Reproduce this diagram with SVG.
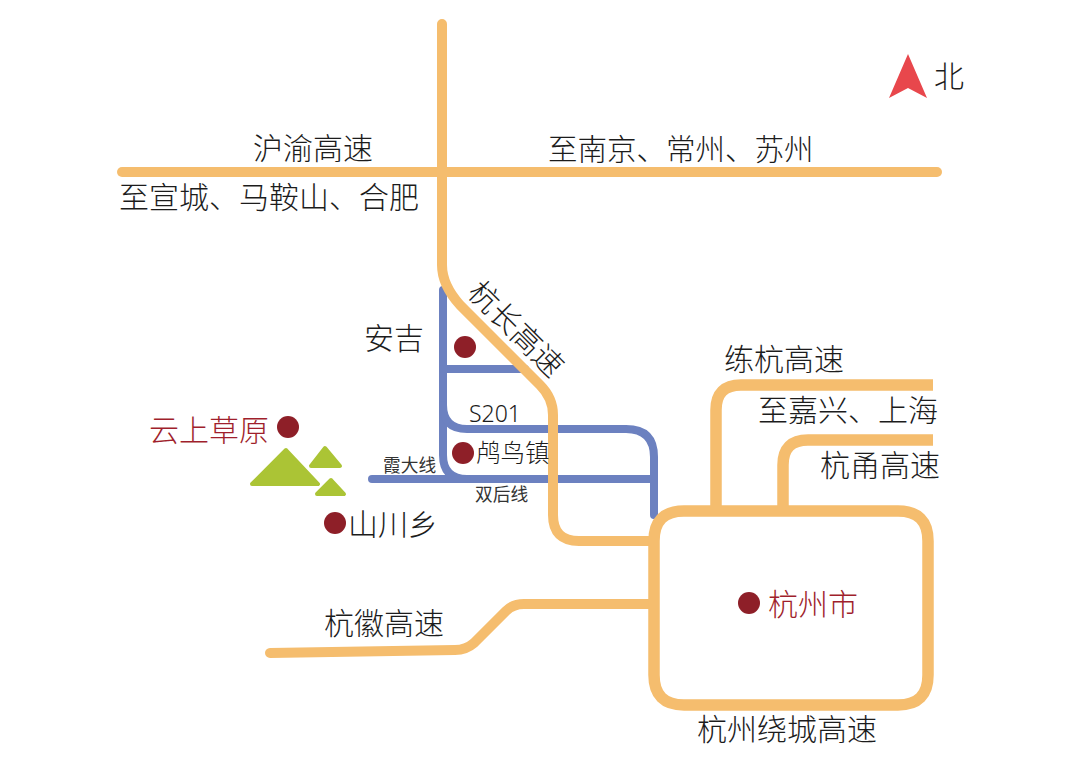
<svg xmlns="http://www.w3.org/2000/svg" width="1080" height="763" viewBox="0 0 1080 763">
<style>
.o{fill:none;stroke:#f5bd6e;stroke-width:11.5;stroke-linecap:round;stroke-linejoin:round}
.n{stroke-width:10}
.b{fill:none;stroke:#6c81c0;stroke-width:8;stroke-linecap:round}
.t{font-family:"Noto Sans CJK SC","Noto Sans",sans-serif;font-weight:300;fill:#1c1c1c;font-size:30px}
.s{font-size:17.7px;font-weight:400;fill:#333}
.r{fill:#a01f2c}
.c{fill:#8e1f28}
.g{fill:#abc435;stroke:#abc435;stroke-width:4;stroke-linejoin:round}
</style>
<rect width="1080" height="763" fill="#fff"/>
<g id="connectors">
<g id="blue-roads">
<path class="b" d="M443 290V455Q443 479 467 479H654"/>
<path class="b" d="M443 369H525"/>
<path class="b" d="M443 405Q443 429 467 429H626Q654 429 654 457V515"/>
<path class="b" d="M372 479H467"/>
</g>
<g id="orange-roads">
<path class="o n" d="M442 24V265Q442 285 460 305L540 385Q553 398 553 415V515Q553 541 579 541H652"/>
<path class="o n" d="M122 172H937"/>
<path class="o n" d="M270 653L455 650Q466 650 474 643L506 611Q513 604 524 604H652"/>
<path class="o" d="M684 511H898Q928 511 928 541V675Q928 705 898 705H684Q654 705 654 675V541Q654 511 684 511Z"/>
<path class="o" d="M716 508V410Q716 385 741 385H933" style="stroke-linecap:butt"/>
<path class="o" d="M783 508V465Q783 440 808 440H933" style="stroke-linecap:butt"/>
</g>
</g>
<g id="north"><path d="M908 54L927 98L908 88L889 98Z" fill="#e8474c"/><text class="t" x="934" y="87">北</text></g>
<g id="label-huyu"><text class="t" x="253" y="159">沪渝高速</text></g>
<g id="label-nanjing"><text class="t" x="548" y="160" style="font-size:29.5px">至南京、常州、苏州</text></g>
<g id="label-xuancheng"><text class="t" x="119" y="208">至宣城、马鞍山、合肥</text></g>
<g id="label-hangchang"><text class="t" transform="translate(466 294) rotate(45)">杭长高速</text></g>
<g id="node-anji"><circle class="c" cx="465" cy="347" r="11"/><text class="t" x="364" y="349">安吉</text></g>
<g id="label-s201"><text class="t" x="469" y="422" style="font-family:'Noto Sans',sans-serif;font-size:23px">S201</text></g>
<g id="node-jiuniao"><circle class="c" cx="463" cy="453" r="11"/><text class="t" x="476" y="462" style="font-size:24.5px">鸬鸟镇</text></g>
<g id="label-xiada"><text class="t s" x="383" y="472">霞大线</text></g>
<g id="label-shuanghou"><text class="t s" x="475" y="501">双后线</text></g>
<g id="node-yunshang"><circle class="c" cx="288" cy="427" r="11"/><text class="t r" x="149" y="441">云上草原</text></g>
<g id="mountains">
<path class="g" d="M286 450L318 484H252Z"/>
<path class="g" d="M325 448L340 466H311Z"/>
<path class="g" d="M331 480L344 494H317Z"/>
</g>
<g id="node-shanchuan"><circle class="c" cx="335" cy="523" r="11"/><text class="t" x="348" y="535">山川乡</text></g>
<g id="label-lianhang"><text class="t" x="724" y="370">练杭高速</text></g>
<g id="label-jiaxing"><text class="t" x="758" y="421">至嘉兴、上海</text></g>
<g id="label-hangyong"><text class="t" x="820" y="476">杭甬高速</text></g>
<g id="label-hanghui"><text class="t" x="324" y="634">杭徽高速</text></g>
<g id="node-hangzhou"><circle class="c" cx="749" cy="603" r="11"/><text class="t r" x="768" y="615">杭州市</text></g>
<g id="label-raocheng"><text class="t" x="697" y="740">杭州绕城高速</text></g>
</svg>
